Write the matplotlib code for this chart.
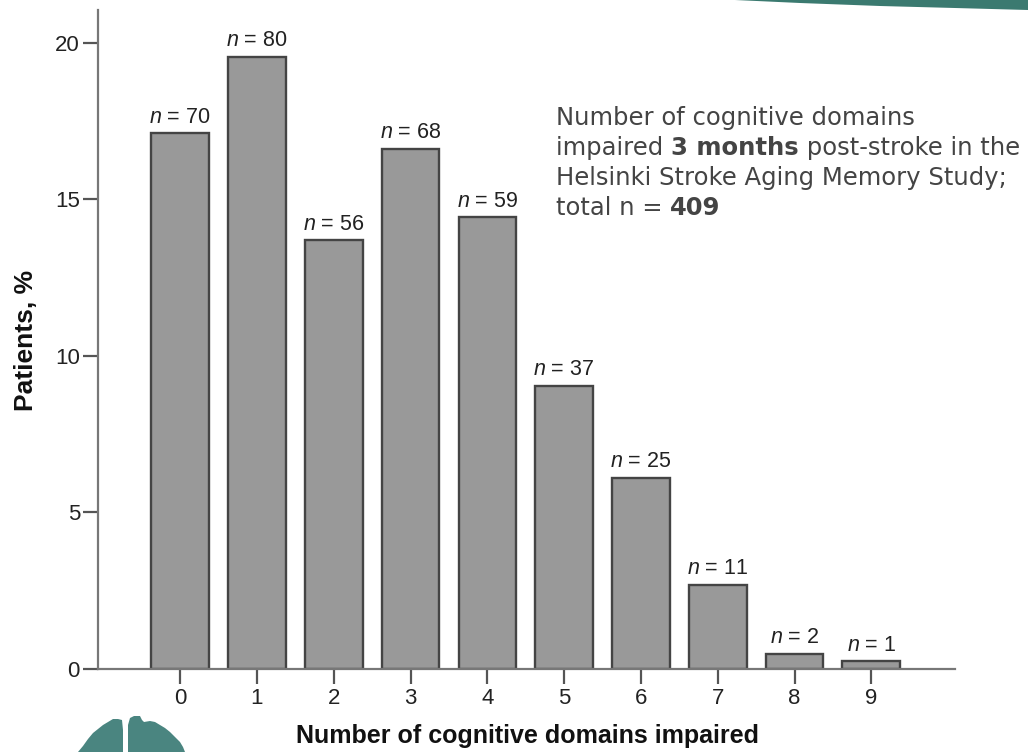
import matplotlib
matplotlib.use("Agg")
import matplotlib.pyplot as plt
from matplotlib.patches import Polygon

plt.rcParams["font.family"] = ["Liberation Sans", "DejaVu Sans"]
plt.rcParams["mathtext.fontset"] = "custom"
plt.rcParams["mathtext.rm"] = "Liberation Sans"
plt.rcParams["mathtext.it"] = "Liberation Sans:italic"

# Number of impaired cognitive domains and patient counts per group
domains = [0, 1, 2, 3, 4, 5, 6, 7, 8, 9]
counts = [70, 80, 56, 68, 59, 37, 25, 11, 2, 1]
total_n = 409
percent = [c / total_n * 100 for c in counts]
y_ticks = [0, 5, 10, 15, 20]

W, H = 1028, 752
fig = plt.figure(figsize=(W / 100, H / 100), dpi=100)
fig.patch.set_facecolor("white")


def fx(px):
    return px / W


def fy(py):
    return 1 - py / H


ax_l, ax_r = 98, 955
ax_b, ax_t = 669, 10
ax = fig.add_axes([fx(ax_l), fy(ax_b), (ax_r - ax_l) / W, (ax_b - ax_t) / H])

ax.bar(domains, percent, width=0.75, color="#999999", edgecolor="#444444",
       linewidth=1.7, zorder=2)

for x, p, c in zip(domains, percent, counts):
    ax.annotate(rf"$n$ = {c}", xy=(x, p), xytext=(0, 4), textcoords="offset points",
                ha="center", va="bottom", fontsize=15.5, color="#222222")

ax.set_xlim(-1.07, 10.09)
ax.set_ylim(0, 21.05)
ax.set_xticks(domains)
ax.set_yticks(y_ticks)
ax.tick_params(axis="both", direction="out", length=11, width=1.6, color="#555555",
               labelsize=16, labelcolor="#222222")
ax.tick_params(axis="y", pad=2)
ax.tick_params(axis="x", pad=3)

for side in ("top", "right"):
    ax.spines[side].set_visible(False)
for side in ("left", "bottom"):
    ax.spines[side].set_color("#777777")
    ax.spines[side].set_linewidth(1.6)

fig.text(fx(26), fy(340), "Patients, %", rotation=90, ha="center", va="center",
         fontsize=19, fontweight="bold", color="#111111")
fig.text(fx(527), fy(736), "Number of cognitive domains impaired", ha="center",
         va="center", fontsize=18, fontweight="bold", color="#111111")

# Caption block with bold highlights, pieced together run by run
cap_font = dict(family=["DejaVu Sans"], fontsize=17.5, color="#444444")
x0 = fx(556)
fig.text(x0, fy(125), "Number of cognitive domains", va="baseline", ha="left", **cap_font)
t1 = fig.text(x0, fy(155), "impaired ", va="baseline", ha="left", **cap_font)
t2 = ax.annotate("3 months", xy=(1, 0), xycoords=t1, va="bottom", ha="left",
                 fontweight="bold", annotation_clip=False, **cap_font)
ax.annotate(" post-stroke in the", xy=(1, 0), xycoords=t2, va="bottom", ha="left",
            annotation_clip=False, **cap_font)
fig.text(x0, fy(185), "Helsinki Stroke Aging Memory Study;", va="baseline", ha="left",
         **cap_font)
t4 = fig.text(x0, fy(215), "total n = ", va="baseline", ha="left", **cap_font)
ax.annotate(f"{total_n}", xy=(1, 0), xycoords=t4, va="bottom", ha="left",
            fontweight="bold", annotation_clip=False, **cap_font)

# Teal banner sweeping along the top-right edge
teal = "#3b7a70"
banner = [(735, 0), (1028, 0), (1028, 10), (955, 8), (880, 6), (800, 3)]
fig.patches.append(Polygon([(fx(x), fy(y)) for x, y in banner], closed=True,
                           transform=fig.transFigure, facecolor=teal, edgecolor="none"))

# Brain emblem peeking in from the bottom-left corner
brain = "#4a8580"
left_lobe = [(78, 752), (83, 746), (88, 739), (93, 733), (98, 729), (103, 725),
             (108, 722), (113, 719), (118, 719), (122, 720), (123, 730), (123, 752)]
right_lobe = [(128, 752), (128, 725), (130, 718), (134, 716), (140, 716), (142, 720),
              (144, 722), (150, 721), (155, 722), (160, 725), (165, 728), (170, 732),
              (175, 737), (180, 742), (183, 747), (185, 752)]
for lobe in (left_lobe, right_lobe):
    fig.patches.append(Polygon([(fx(x), fy(y)) for x, y in lobe], closed=True,
                               transform=fig.transFigure, facecolor=brain,
                               edgecolor="none"))

fig.savefig("out.png", dpi=100, facecolor="white")
